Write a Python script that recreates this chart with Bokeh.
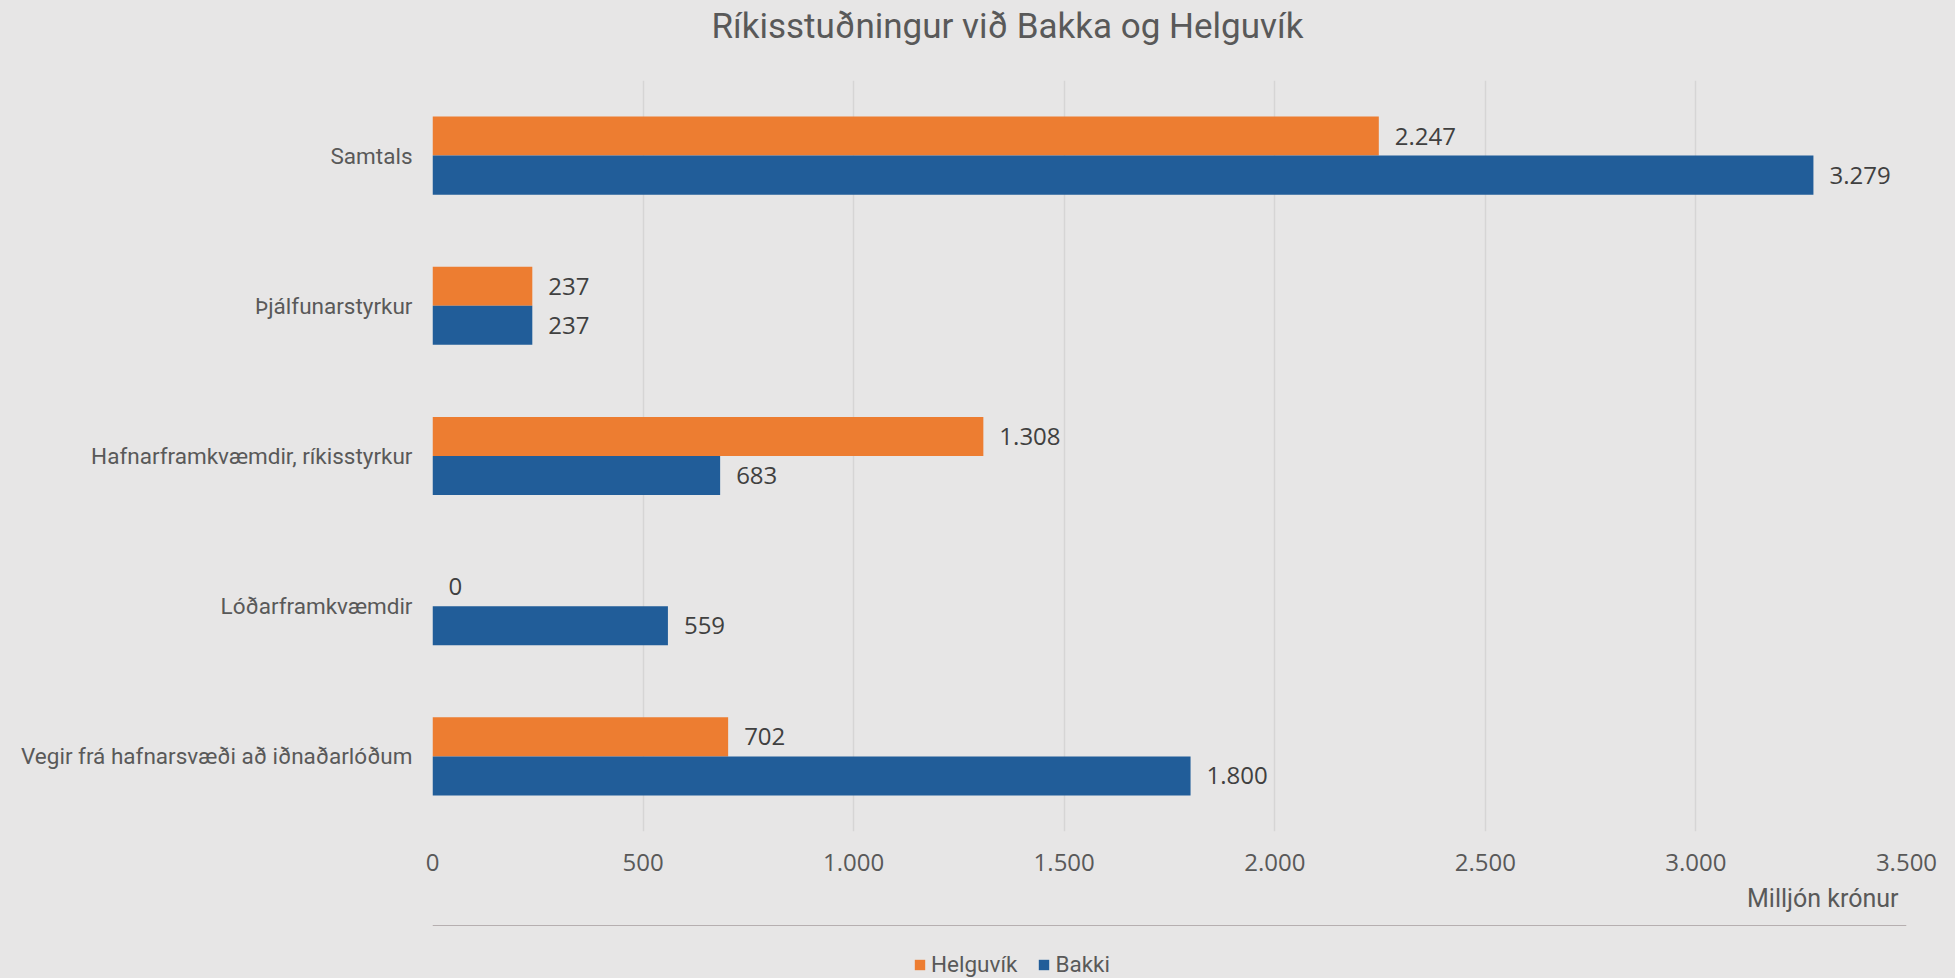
from bokeh.plotting import figure
from bokeh.models import (ColumnDataSource, FactorRange, Range1d, FixedTicker,
                          Legend, LegendItem, Title, LinearAxis)
from bokeh.layouts import column
from bokeh.transform import dodge
from bokeh.core.properties import value
from bokeh.embed import file_html
from bokeh.resources import INLINE

categories = ["Samtals", "Þjálfunarstyrkur", "Hafnarframkvæmdir, ríkisstyrkur",
              "Lóðarframkvæmdir", "Vegir frá hafnarsvæði að iðnaðarlóðum"]
helguvik = [2247, 237, 1308, 0, 702]
bakki = [3279, 237, 683, 559, 1800]
series_names = ["Helguvík", "Bakki"]
x_ticks = [0, 500, 1000, 1500, 2000, 2500, 3000, 3500]
x_tick_labels = ["0", "500", "1.000", "1.500", "2.000", "2.500", "3.000", "3.500"]
title_text = "Ríkisstuðningur við Bakka og Helguvík"
x_axis_title = "Milljón krónur"

ORANGE = "#ED7D31"
BLUE = "#215D99"
BG = "#E7E6E6"
TXT = "#595959"
NUM_FONT = "Open Sans"
LBL_FONT = "Roboto"


def fmt(v):
    return f"{v:,}".replace(",", ".")


src = ColumnDataSource(dict(
    cat=categories,
    helguvik=helguvik,
    bakki=bakki,
    hl=[fmt(v) for v in helguvik],
    bl=[fmt(v) for v in bakki],
))

W = 1955
H1, H2 = 925, 53

p = figure(width=W, height=H1, output_backend="svg", toolbar_location=None,
           y_range=FactorRange(factors=list(reversed(categories)), range_padding=0),
           x_range=Range1d(x_ticks[0], x_ticks[-1]),
           min_border_left=432, min_border_right=W - 1906,
           min_border_top=80, min_border_bottom=H1 - 831)

p.background_fill_color = BG
p.border_fill_color = BG
p.outline_line_color = None

# invisible spacer axis above the frame (one undrawn tick, undrawn label),
# so that the title sits higher above the bars
spacer = LinearAxis(ticker=FixedTicker(ticks=[x_ticks[0]], minor_ticks=[]),
                    major_tick_out=34, major_tick_in=0,
                    minor_tick_out=0, minor_tick_in=0,
                    major_label_standoff=0, axis_line_color=None,
                    major_tick_line_color=None, minor_tick_line_color=None,
                    major_label_text_color=None, major_label_text_font_size="1px")
p.add_layout(spacer, "above")

t = Title(text=title_text, align="left", offset=279, standoff=0,
          text_font=LBL_FONT, text_font_size="35px", text_font_style="normal",
          text_color=TXT)
p.add_layout(t, "above")

rh = p.hbar(y=dodge("cat", 0.13, range=p.y_range), left=0, right="helguvik",
            height=0.26, source=src, fill_color=ORANGE, line_color=None)
rb = p.hbar(y=dodge("cat", -0.13, range=p.y_range), left=0, right="bakki",
            height=0.26, source=src, fill_color=BLUE, line_color=None)

p.text(x="helguvik", y=dodge("cat", 0.13, range=p.y_range), text="hl", source=src,
       x_offset=16, text_baseline="middle", text_align="left",
       text_font=value(NUM_FONT), text_font_size="24px", text_color="#404040")
p.text(x="bakki", y=dodge("cat", -0.13, range=p.y_range), text="bl", source=src,
       x_offset=16, text_baseline="middle", text_align="left",
       text_font=value(NUM_FONT), text_font_size="24px", text_color="#404040")

# axes
xax = p.below[0]
xax.ticker = FixedTicker(ticks=x_ticks)
xax.major_label_overrides = {tk: lb for tk, lb in zip(x_ticks, x_tick_labels)}
xax.axis_line_color = None
xax.major_tick_line_color = None
xax.minor_tick_line_color = None
xax.major_label_standoff = 16
xax.major_label_text_font = NUM_FONT
xax.major_label_text_font_size = "24px"
xax.major_label_text_color = TXT

p.yaxis.axis_line_color = None
p.yaxis.major_tick_line_color = None
p.yaxis.minor_tick_line_color = None
p.yaxis.major_label_standoff = 14
p.yaxis.major_label_text_font = LBL_FONT
p.yaxis.major_label_text_font_size = "22.5px"
p.yaxis.major_label_text_color = TXT

p.xgrid.grid_line_color = "#D6D5D5"
p.xgrid.grid_line_width = 1.5
p.ygrid.grid_line_color = None

# axis title, right-aligned under the tick labels
p.add_layout(Title(text=x_axis_title, align="right", offset=8, standoff=16,
                   text_font=LBL_FONT, text_font_size="25px",
                   text_font_style="normal", text_color=TXT), "below")

# legend strip below the chart
p2 = figure(width=W, height=H2, output_backend="svg", toolbar_location=None,
            x_axis_type=None, y_axis_type=None,
            x_range=Range1d(0, 1), y_range=Range1d(0, 1),
            min_border=0, min_border_left=0, min_border_right=0,
            min_border_top=0, min_border_bottom=0)
p2.background_fill_color = None
p2.border_fill_color = BG
p2.outline_line_color = None
# swatch renderers placed outside the visible range: only their legend glyphs show
lh = p2.hbar(y=[10], right=[1], height=0.5, fill_color=ORANGE, line_color=None)
lb = p2.hbar(y=[10], right=[1], height=0.5, fill_color=BLUE, line_color=None)
legend = Legend(items=[LegendItem(label=series_names[0], renderers=[lh]),
                       LegendItem(label=series_names[1], renderers=[lb])],
                orientation="horizontal", location=(913 - 432, 1),
                glyph_width=13, glyph_height=13, label_standoff=5, spacing=20,
                padding=0, margin=0, border_line_color=None,
                background_fill_alpha=0,
                label_text_font=LBL_FONT, label_text_font_size="22.5px",
                label_text_color=TXT, label_height=22)
p2.add_layout(legend, "center")

layout = column(p, p2, spacing=0)
html = file_html(layout, INLINE)
html = html.replace("</head>",
                    "<style>html, body { background: #E7E6E6; }</style></head>", 1)
open("out.html", "w").write(html)
